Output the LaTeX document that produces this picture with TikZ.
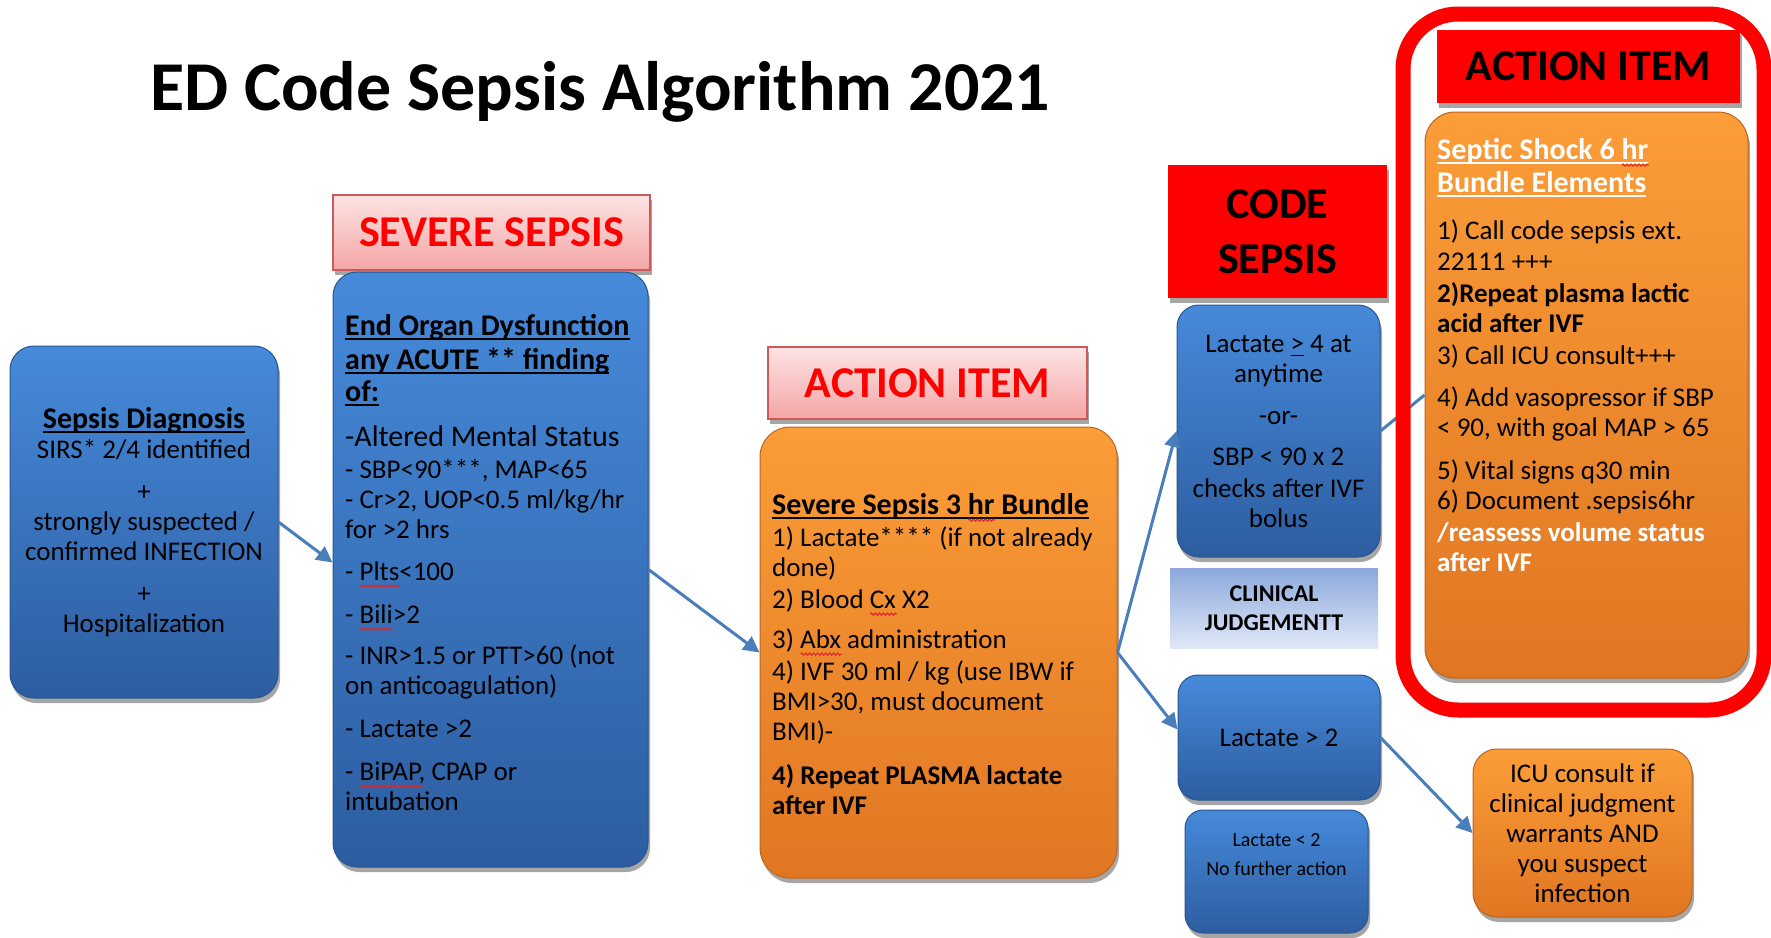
\documentclass[tikz,border=0pt]{standalone}
\usepackage{fontspec}
\setmainfont{Carlito}
\usetikzlibrary{shadows,arrows.meta,decorations.pathmorphing}
\definecolor{bluetop}{RGB}{70,138,218}
\definecolor{bluebot}{RGB}{45,93,160}
\definecolor{blueedge}{RGB}{40,85,145}
\definecolor{orgtop}{RGB}{251,157,56}
\definecolor{orgbot}{RGB}{224,118,34}
\definecolor{orgedge}{RGB}{190,100,30}
\definecolor{pinktop}{RGB}{253,228,228}
\definecolor{pinkbot}{RGB}{244,165,165}
\definecolor{pinkedge}{RGB}{205,90,90}
\definecolor{clintop}{RGB}{140,168,220}
\definecolor{clinbot}{RGB}{224,232,247}
\definecolor{arrowblue}{RGB}{74,126,187}
\definecolor{pure}{RGB}{255,0,0}
\definecolor{squig}{RGB}{220,40,40}
\newcommand\bodyfont{\fontsize{27}{30}\selectfont}
\newcommand\headfont{\fontsize{30}{30}\selectfont\bfseries}
\newcommand\bigfont{\fontsize{44}{55}\selectfont\bfseries}
\newcommand\smallfont{\fontsize{20}{29}\selectfont}
\newcommand\ulx[1]{\setbox0\hbox{#1}\rlap{\rule[-5pt]{\wd0}{2pt}}\box0\relax}
\newcommand\uly[1]{\setbox0\hbox{#1}\rlap{\rule[-4pt]{\wd0}{1.5pt}}\box0\relax}
\newlength\sqw
\newcommand\sq[1]{\setbox0\hbox{#1}\setlength\sqw{\wd0}\rlap{\raisebox{-7.5pt}{\tikz[x=1pt,y=1pt]\draw[squig,line width=1.1pt,decorate,decoration={zigzag,segment length=4pt,amplitude=1.1pt}] (0,0) -- (\the\sqw,0);}}#1}
\tikzset{
 sh/.style={drop shadow={shadow xshift=2pt,shadow yshift=-5pt,opacity=0.35,fill=black}},
 bluebox/.style={sh, rounded corners=24pt, draw=blueedge, line width=1pt, top color=bluetop, bottom color=bluebot, inner sep=0pt},
 orangebox/.style={sh, rounded corners=30pt, draw=orgedge, line width=1pt, top color=orgtop, bottom color=orgbot, inner sep=0pt},
 pinkhead/.style={sh, draw=pinkedge, line width=1.2pt, top color=pinktop, bottom color=pinkbot, inner sep=0pt, text=pure, font=\bigfont},
 redhead/.style={sh, fill=pure, inner sep=0pt, text=black, font=\bigfont, align=center},
 clin/.style={top color=clintop, bottom color=clinbot, inner sep=0pt, font=\fontsize{24}{29}\selectfont\bfseries, align=center},
 txt/.style={inner sep=0pt, font=\bodyfont, align=left, anchor=north west},
 ctxt/.style={inner sep=0pt, font=\bodyfont, align=center},
 conn/.style={draw=arrowblue, line width=3pt},
 arr/.style={conn, -{Triangle[length=16pt,width=16pt]}},
}
\begin{document}
\begin{tikzpicture}[x=1pt,y=-1pt]
\fill[white] (0,0) rectangle (1771,937);
\useasboundingbox (0,0) rectangle (1771,937);

\node[anchor=base west, inner sep=0pt, font=\fontsize{70}{80}\selectfont\bfseries] (title) at (150,110) {ED Code Sepsis Algorithm 2021};

% Sepsis diagnosis
\node[bluebox, minimum width=268pt, minimum height=352pt] (diag) at (144,522) {};
\node[ctxt] (diagtxt) at (diag.center) {{\headfont\ulx{Sepsis Diagnosis}}\\ SIRS* 2/4 identified\\[12pt] +\\ strongly suspected /\\ confirmed INFECTION\\[12pt] +\\ Hospitalization};

% Severe sepsis
\node[pinkhead, minimum width=317pt, minimum height=75pt] (severe) at (491.5,232.5) {SEVERE SEPSIS};
\node[bluebox, minimum width=315pt, minimum height=595pt] (organ) at (490.5,569.5) {};
\node[txt] (organtxt) at (345,314) {{\headfont\ulx{End Organ Dysfunction}}\\[4pt]
{\headfont\ulx{any ACUTE ** finding}}\\[2pt]
{\headfont\ulx{of:}}\\[15pt]
{\fontsize{30}{30}\selectfont -Altered Mental Status}\\[2pt]
- SBP<90***, MAP<65\\
- Cr>2, UOP<0.5 ml/kg/hr\\
for >2 hrs\\[12pt]
- \sq{Plts}<100\\[13pt]
- \sq{Bili}>2\\[11pt]
- INR>1.5 or PTT>60 (not\\
on anticoagulation)\\[13pt]
- Lactate >2\\[13pt]
- \sq{BiPAP}, CPAP or\\
intubation};

% Action item 1
\node[pinkhead, minimum width=319pt, minimum height=72pt] (act1) at (927.5,383) {ACTION ITEM};
\node[orangebox, minimum width=357pt, minimum height=451pt] (bundle3) at (938.5,652.5) {};
\node[txt] (b3txt) at (772,493) {{\headfont\ulx{Severe Sepsis 3 \sq{hr} Bundle}}\\[2pt]
1) Lactate**** (if not already\\
done)\\[2pt]
2) Blood \sq{Cx} X2\\[10pt]
3) \sq{Abx} administration\\[2pt]
4) IVF 30 ml / kg (use IBW if\\
BMI>30, must document\\
BMI)-\\[14pt]
\textbf{4) Repeat PLASMA lactate}\\
\textbf{after IVF}};

% Code sepsis column
\node[redhead, minimum width=219pt, minimum height=133pt] (code) at (1277.5,231.5) {CODE\\SEPSIS};
\node[bluebox, rounded corners=22pt, minimum width=203pt, minimum height=252pt] (code4) at (1278.5,431) {};
\node[ctxt] (code4txt) at (code4.center) {Lactate \uly{>} 4 at\\ anytime\\[12pt] -or-\\[11pt] SBP < 90 x 2\\[2pt] checks after IVF\\ bolus};
\node[clin, minimum width=208pt, minimum height=80pt] (clinical) at (1274,608) {CLINICAL\\JUDGEMENTT};
\node[bluebox, rounded corners=20pt, minimum width=202pt, minimum height=125pt, font=\bodyfont] (lac2) at (1279,737.5) {Lactate > 2};
\node[bluebox, rounded corners=18pt, minimum width=183pt, minimum height=123pt] (lowlac) at (1276.5,871.5) {};
\node[inner sep=0pt, font=\smallfont, align=center] (lowtxt) at (1276.5,855) {Lactate < 2\\No further action};

% Action item 2
\node[redhead, minimum width=303pt, minimum height=73pt] (act2) at (1588.5,66.5) {ACTION ITEM};
\node[orangebox, minimum width=323pt, minimum height=566pt] (bundle6) at (1586.5,395) {};
\node[txt] (b6txt) at (1437,138) {{\color{white}\headfont\ulx{Septic Shock 6 \sq{hr}}}\\[3pt]
{\color{white}\headfont\ulx{Bundle Elements}}\\[17pt]
1) Call code sepsis ext.\\[1pt]
22111 +++\\[2pt]
\textbf{2)Repeat plasma lactic}\\
\textbf{acid after IVF}\\[2pt]
3) Call ICU consult+++\\[12pt]
4) Add vasopressor if SBP\\
< 90, with goal MAP > 65\\[13pt]
5) Vital signs q30 min\\
6) Document .sepsis6hr\\[2pt]
{\color{white}\bfseries /reassess volume status}\\
{\color{white}\bfseries after IVF}};

% ICU consult
\node[orangebox, rounded corners=24pt, minimum width=219pt, minimum height=168pt, font=\bodyfont, align=center] (icu) at (1582.5,833) {ICU consult if\\clinical judgment\\warrants AND\\you suspect\\infection};

% connectors
\draw[arr] (diag.east) -- ([yshift=7pt]organ.west);
\draw[arr] (organ.east) -- (bundle3.west);
\draw[arr] (bundle3.east) -- (code4.west);
\draw[arr] (bundle3.east) -- ([yshift=8pt]lac2.west);
\draw[conn] (code4.east) -- (bundle6.west);
\draw[arr] (lac2.east) -- (icu.west);

% red frame
\node[draw=pure, line width=15pt, rounded corners=55pt, minimum width=361pt, minimum height=696pt, inner sep=0pt] (frame) at (1583.5,362) {};
\end{tikzpicture}
\end{document}
